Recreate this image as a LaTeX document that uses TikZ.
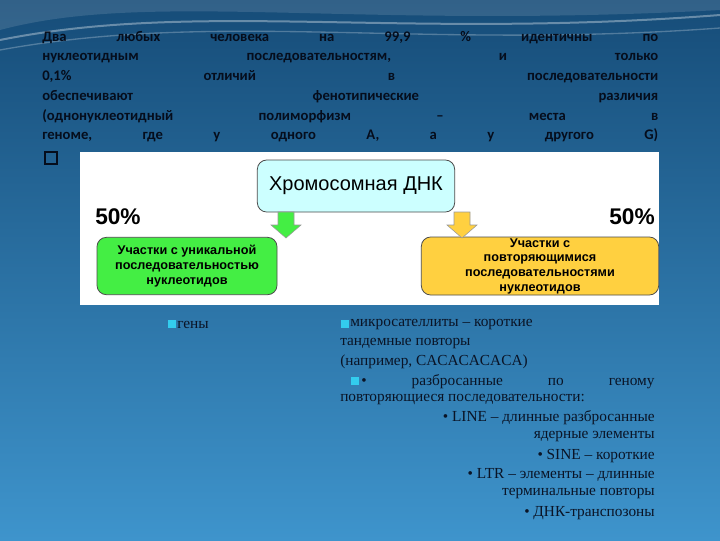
\documentclass[tikz,border=0pt]{standalone}
\usepackage{fontspec}
\setmainfont{Liberation Serif}
\newfontfamily\calib{Carlito}
\newfontfamily\arialf{Liberation Sans}
\definecolor{bgtop}{HTML}{164C78}
\definecolor{bgbot}{HTML}{3E94CC}
\definecolor{toptxt}{HTML}{050D1C}
\definecolor{cyanb}{HTML}{CCFFFF}
\definecolor{greenb}{HTML}{44EE44}
\definecolor{yellowb}{HTML}{FFD040}
\definecolor{sq}{HTML}{33CCEE}
\definecolor{lowtxt}{HTML}{0A1426}
\begin{document}
\begin{tikzpicture}[x=0.75pt,y=-0.75pt,
  topline/.style={anchor=west,inner sep=0,text width=462pt,font=\calib\bfseries\fontsize{11}{12}\selectfont,text=toptxt},
  lowline/.style={inner sep=0,font=\fontsize{11.5}{13}\selectfont,text=lowtxt},
  rbox/.style={draw=black!70,rounded corners=7pt,line width=0.6pt,align=center},
  darrow/.style={draw=black!40,line width=0.4pt}]
\useasboundingbox (0,0) rectangle (720,540);
\shade[top color=bgtop,bottom color=bgbot] (0,0) rectangle (720,540);
\fill[white,opacity=0.12] (0,30) .. controls (150,-10) and (350,30) .. (720,10) -- (720,0) -- (0,0) -- cycle;
\draw[white,opacity=0.35,line width=1.5pt] (0,40) .. controls (200,0) and (400,40) .. (720,15);
\draw[white,opacity=0.25,line width=1pt] (0,50) .. controls (220,10) and (420,50) .. (720,28);
% top paragraph
\node[topline] (l1) at (42,38) {Два\hfill любых\hfill человека\hfill на\hfill 99,9\hfill \%\hfill идентичны\hfill по};
\node[topline] (l2) at (42,58) {нуклеотидным\hfill последовательностям,\hfill и\hfill только};
\node[topline] (l3) at (42,77) {0,1\%\hfill отличий\hfill в\hfill последовательности};
\node[topline] (l4) at (42,97) {обеспечивают\hfill фенотипические\hfill различия};
\node[topline] (l5) at (42,116) {(однонуклеотидный\hfill полиморфизм\hfill –\hfill места\hfill в};
\node[topline] (l6) at (42,135) {геноме,\hfill где\hfill у\hfill одного\hfill А,\hfill а\hfill у\hfill другого\hfill G)};
\node[draw=toptxt,line width=1.8pt,minimum size=9pt,inner sep=0] (cb) at (51,158) {};
% panel
\fill[white] (80,152) rectangle (659,305);
\node[rbox,fill=cyanb,minimum width=148pt,minimum height=39pt,font=\arialf\fontsize{15}{17}\selectfont] (top) at (356,186) {Хромосомная ДНК};
\node[rbox,fill=greenb,minimum width=135pt,minimum height=43pt,font=\arialf\bfseries\fontsize{9.5}{11.5}\selectfont] (gb) at (187,266) {Участки с уникальной\\последовательностью\\нуклеотидов};
\node[rbox,fill=yellowb,minimum width=178pt,minimum height=43pt,inner sep=1pt,font=\arialf\bfseries\fontsize{9.5}{11}\selectfont] (yb) at (540,266) {Участки с\\повторяющимися\\последовательностями\\нуклеотидов};
\coordinate (ga) at (286,212);
\coordinate (ya) at (462,212);
\filldraw[darrow,fill=greenb] (ga) ++(-8,0) -- ++(0,13) -- ++(-7,0) -- ++(15,13) -- ++(15,-13) -- ++(-7,0) -- ++(0,-13) -- cycle;
\filldraw[darrow,fill=yellowb] (ya) ++(-8,0) -- ++(0,13) -- ++(-7,0) -- ++(15,13) -- ++(15,-13) -- ++(-7,0) -- ++(0,-13) -- cycle;
\node[font=\arialf\bfseries\fontsize{17}{19}\selectfont,anchor=west,inner sep=0] (p1) at (95,217) {50\%};
\node[font=\arialf\bfseries\fontsize{17}{19}\selectfont,anchor=east,inner sep=0] (p2) at (655,217) {50\%};
% lower text
\node[fill=sq,minimum size=6pt,inner sep=0] (s1) at (172,324) {};
\node[lowline,anchor=west] (geny) at (177,325) {гены};
\node[fill=sq,minimum size=6pt,inner sep=0] (s2) at (345,324) {};
\node[lowline,anchor=west] (m1) at (350,325) {микросателлиты – короткие};
\node[lowline,anchor=west] (m2) at (340,344) {тандемные повторы};
\node[lowline,anchor=west] (m3) at (340,362) {(например, CACACACACA)};
\node[fill=sq,minimum size=6pt,inner sep=0] (s3) at (355,381) {};
\node[lowline,anchor=west,text width=220pt] (r1) at (361,382) {•\hfill разбросанные\hfill по\hfill геному};
\node[lowline,anchor=west] (r2) at (340,400) {повторяющиеся последовательности:};
\node[lowline,anchor=east] (r3) at (655,418) {• LINE – длинные разбросанные};
\node[lowline,anchor=east] (r4) at (655,437) {ядерные элементы};
\node[lowline,anchor=east] (r5) at (655,456) {• SINE – короткие};
\node[lowline,anchor=east] (r6) at (655,475) {• LTR – элементы – длинные};
\node[lowline,anchor=east] (r7) at (655,494) {терминальные повторы};
\node[lowline,anchor=east] (r8) at (655,513) {• ДНК-транспозоны};
\end{tikzpicture}
\end{document}
